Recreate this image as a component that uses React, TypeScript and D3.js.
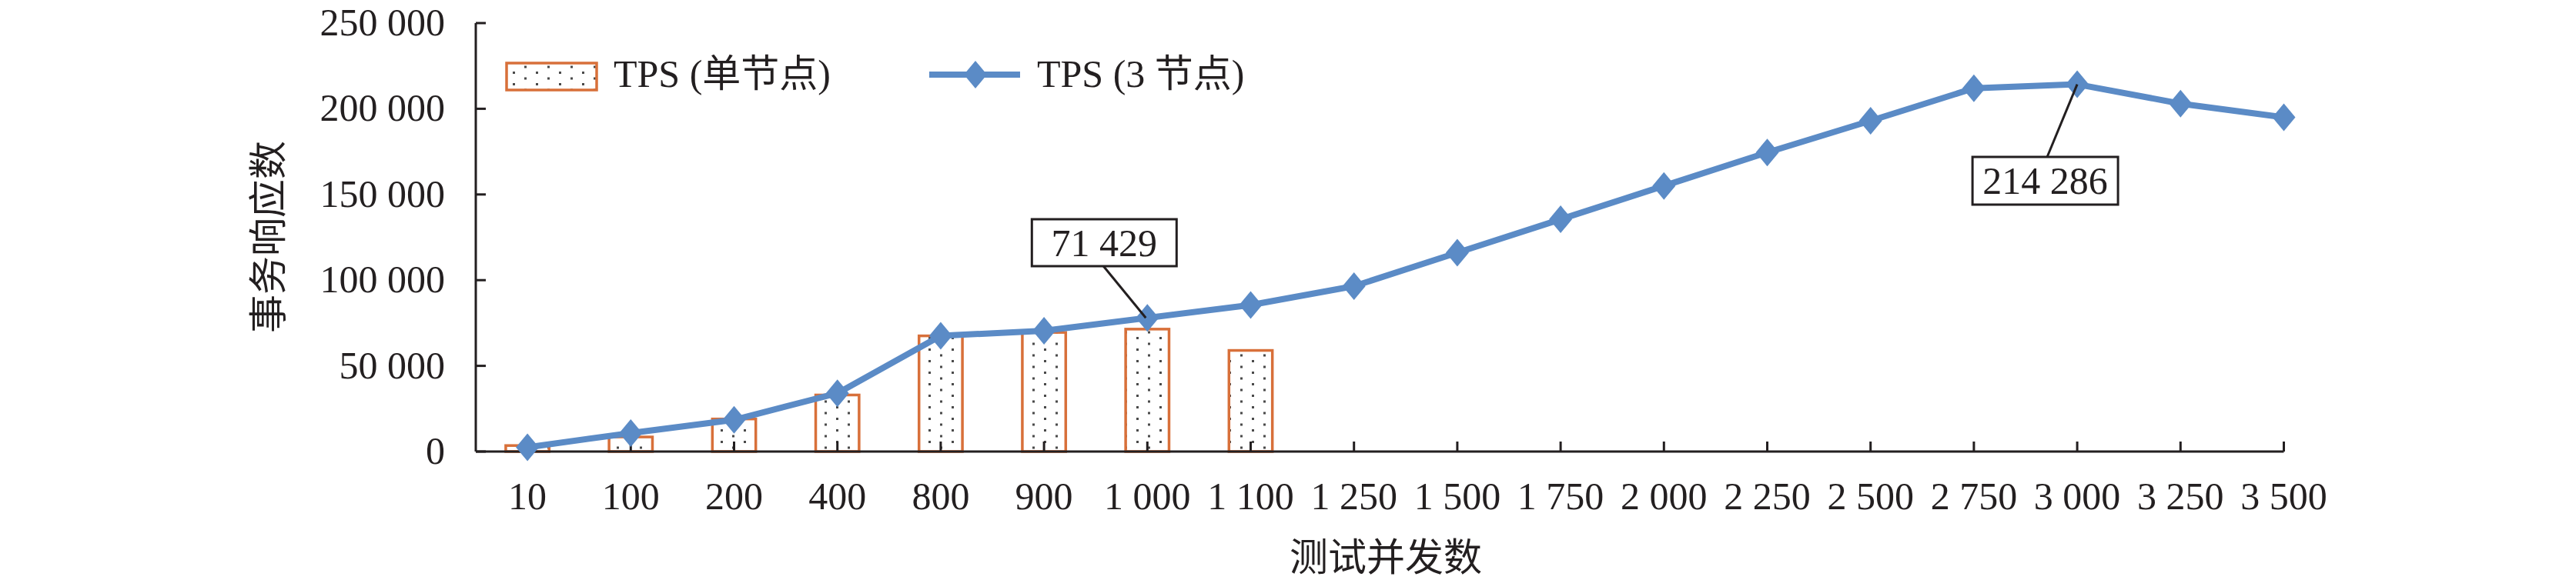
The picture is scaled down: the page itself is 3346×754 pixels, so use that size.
import React from 'react';
import * as d3 from 'd3';

const categories = ['10', '100', '200', '400', '800', '900', '1 000', '1 100', '1 250', '1 500', '1 750', '2 000', '2 250', '2 500', '2 750', '3 000', '3 250', '3 500'];
const singleNode = [3500, 8500, 19000, 33000, 67500, 69500, 71429, 59000];
const threeNode = [2500, 10800, 18500, 34000, 67500, 70500, 78000, 85500, 96500, 116000, 135500, 155000, 174500, 193000, 212000, 214286, 203000, 195000];
const yTicks = [0, 50000, 100000, 150000, 200000, 250000];
const seriesNames = ['TPS (单节点)', 'TPS (3 节点)'];
const yTitle = '事务响应数';
const xTitle = '测试并发数';
const annotLabels = ['71 429', '214 286'];
const annotIndex = [6, 15];

const W = 3346;
const H = 754;
const left = 618;
const bandW = 134.2;
const y0 = 587;
const yTop = 30;
const ink = '#231f20';
const blue = '#5b8bc6';
const orange = '#d8703a';
const font = "'Liberation Serif', 'Times New Roman', 'Noto Sans CJK SC', serif";

const fmt = (v: number) => d3.format(',')(v).replace(/,/g, ' ');

export default function App() {
  const x = d3.scaleBand<string>().domain(categories).range([left, left + bandW * categories.length]).paddingInner(0).paddingOuter(0);
  const y = d3.scaleLinear().domain([0, 250000]).range([y0, yTop]);
  const cx = (c: string) => (x(c) as number) + x.bandwidth() / 2;
  const barW = x.bandwidth() * 0.42;
  const lastCx = cx(categories[categories.length - 1]);

  const line = d3.line<number>().x((_, i) => cx(categories[i])).y((d) => y(d));
  const diamond = 'M0,-18 L15,0 L0,18 L-15,0 Z';

  const a1 = { cxp: cx(categories[annotIndex[0]]), cyp: y(threeNode[annotIndex[0]]) };
  const a2 = { cxp: cx(categories[annotIndex[1]]), cyp: y(threeNode[annotIndex[1]]) };
  const box1 = { x: a1.cxp - 150, y: 285, w: 188, h: 61 };
  const box2 = { x: a2.cxp - 136, y: 204, w: 189, h: 62 };

  return (
    <svg width={W} height={H} style={{ position: 'absolute', left: 0, top: 0, background: '#fff' }} fontFamily={font}>
      <defs>
        <pattern id="dots" patternUnits="userSpaceOnUse" width={30} height={15}>
          <rect x={0} y={0} width={30} height={15} fill="#fff" />
          <rect x={6} y={3} width={3} height={3} fill="#4a4a4a" />
          <rect x={21} y={10.5} width={3} height={3} fill="#4a4a4a" />
        </pattern>
      </defs>
      <rect x={0} y={0} width={W} height={H} fill="#fff" />

      {singleNode.map((v, i) => (
        <rect key={'b' + i} x={cx(categories[i]) - barW / 2} y={y(v)} width={barW} height={y0 - y(v)} fill="url(#dots)" stroke={orange} strokeWidth={3.5} />
      ))}

      <line x1={left} y1={yTop} x2={left} y2={y0} stroke={ink} strokeWidth={3} />
      <line x1={left} y1={y0} x2={lastCx} y2={y0} stroke={ink} strokeWidth={3} />
      {yTicks.map((t) => (
        <g key={'yt' + t}>
          <line x1={left} y1={y(t)} x2={left + 13} y2={y(t)} stroke={ink} strokeWidth={3} />
          <text x={578} y={y(t) + 16} textAnchor="end" fontSize={50} fill={ink}>{fmt(t)}</text>
        </g>
      ))}
      {categories.map((c) => (
        <g key={'xt' + c}>
          <line x1={cx(c)} y1={y0} x2={cx(c)} y2={y0 - 13} stroke={ink} strokeWidth={3} />
          <text x={cx(c)} y={662} textAnchor="middle" fontSize={50} fill={ink}>{c}</text>
        </g>
      ))}

      <path d={line(threeNode) || ''} fill="none" stroke={blue} strokeWidth={8} strokeLinejoin="round" />
      {threeNode.map((v, i) => (
        <path key={'m' + i} d={diamond} transform={`translate(${cx(categories[i])},${y(v)})`} fill={blue} />
      ))}

      <line x1={box1.x + 93} y1={box1.y + box1.h} x2={a1.cxp - 2} y2={a1.cyp} stroke={ink} strokeWidth={3} />
      <rect x={box1.x} y={box1.y} width={box1.w} height={box1.h} fill="#fff" stroke={ink} strokeWidth={3} />
      <text x={box1.x + box1.w / 2} y={box1.y + 48} textAnchor="middle" fontSize={50} fill={ink}>{annotLabels[0]}</text>

      <line x1={box2.x + 97} y1={box2.y} x2={a2.cxp} y2={a2.cyp} stroke={ink} strokeWidth={3} />
      <rect x={box2.x} y={box2.y} width={box2.w} height={box2.h} fill="#fff" stroke={ink} strokeWidth={3} />
      <text x={box2.x + box2.w / 2} y={box2.y + 48} textAnchor="middle" fontSize={50} fill={ink}>{annotLabels[1]}</text>

      <rect x={658} y={82} width={117} height={35} fill="url(#dots)" stroke={orange} strokeWidth={3.5} />
      <text x={797} y={113} fontSize={50} fill={ink}>{seriesNames[0]}</text>
      <line x1={1207} y1={97} x2={1325} y2={97} stroke={blue} strokeWidth={8} />
      <path d={diamond} transform="translate(1267,97)" fill={blue} />
      <text x={1347} y={113} fontSize={50} fill={ink}>{seriesNames[1]}</text>

      <text transform="translate(366,308) rotate(-90)" textAnchor="middle" fontSize={50} fill={ink}>{yTitle}</text>
      <text x={1800} y={742} textAnchor="middle" fontSize={50} fill={ink}>{xTitle}</text>
    </svg>
  );
}
